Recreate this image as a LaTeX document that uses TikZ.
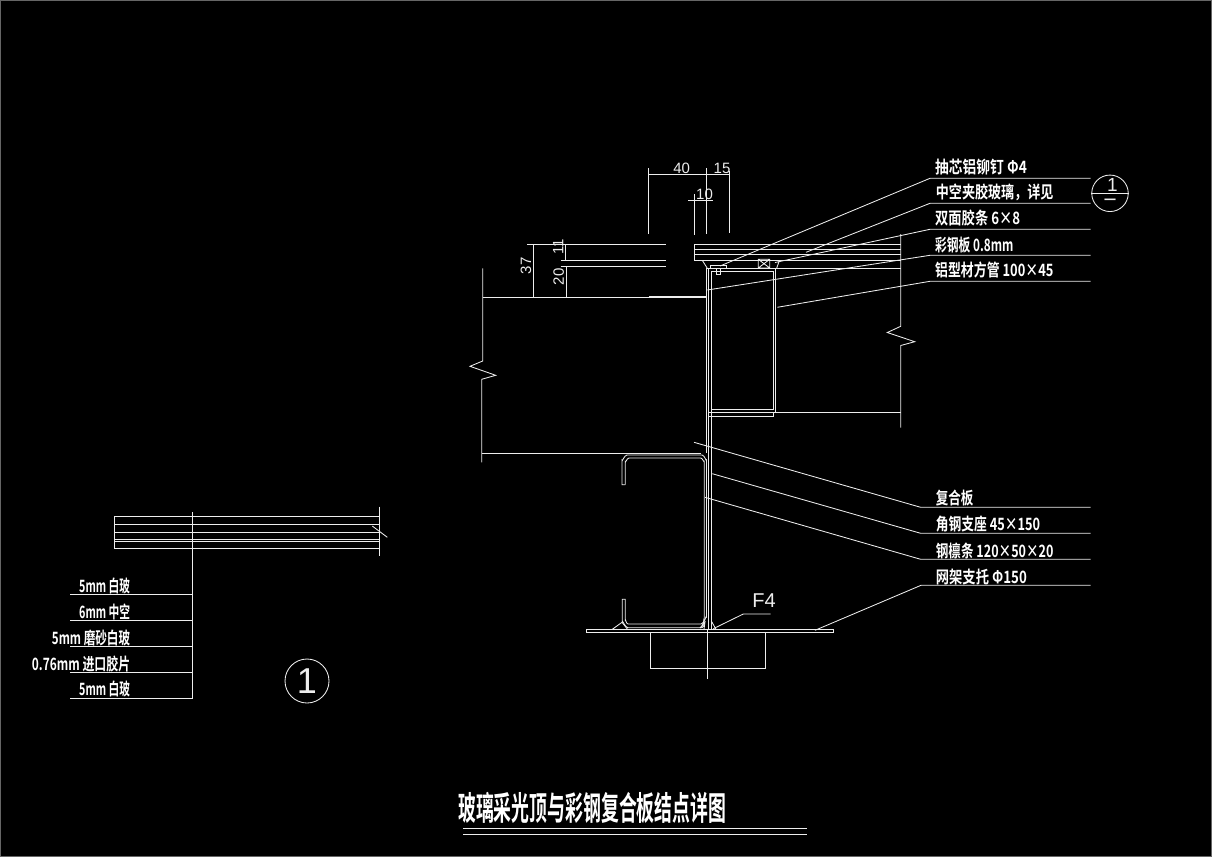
\documentclass[tikz,border=0pt]{standalone}
\usepackage{fontspec}
\usepackage{graphicx}
\setmainfont{Liberation Sans}
\newfontfamily\cjkb[BoldFont={Noto Sans CJK SC Bold}]{Noto Sans CJK SC Bold}
\newcommand{\fitw}[2]{\resizebox{#1pt}{\height}{#2}}
\tikzset{
  cad/.style={draw=cadwhite,line width=0.85pt,line cap=butt,line join=miter},
  lab/.style={anchor=west,inner sep=0pt,text=white,font=\cjkb\fontsize{17}{17}\selectfont},
  dimtxt/.style={inner sep=0pt,text=cadwhite,font=\fontsize{15}{15}\selectfont}
}
\definecolor{cadwhite}{gray}{0.93}
\begin{document}
\begin{tikzpicture}[x=1pt,y=-1pt]
\useasboundingbox (0,0) rectangle (1212,857);
\fill[black] (0,0) rectangle (1212,857);
\draw[draw=black!60!white,line width=0.8pt] (0.4,0.4) rectangle (1211.6,856.6);

% ---------- dimensions top
\draw[cad] (648.3,174.3) -- (729.3,174.3);
\draw[cad] (648.3,168) -- (648.3,233.7);
\draw[cad] (706.3,168) -- (706.3,234);
\draw[cad] (729.3,171) -- (729.3,233);
\draw[cad] (688.3,200.3) -- (712.7,200.3);
\draw[cad] (694.3,194) -- (694.3,235);
\node[dimtxt] (d40) at (681.7,168) {40};
\node[dimtxt] (d15) at (722,168) {15};
\node[dimtxt] (d10) at (704.5,194.5) {10};

% ---------- dimensions left
\draw[cad] (527,244.3) -- (665.7,244.3);
\draw[cad] (560.7,260.3) -- (665.7,260.3);
\draw[cad] (560.7,266.3) -- (665.7,266.3);
\draw[cad] (533.3,244.3) -- (533.3,297.3);
\draw[cad] (565.5,244.3) -- (565.5,260.3);
\draw[cad] (566.3,266.3) -- (566.3,297.3);
\node[dimtxt,rotate=90] (d37) at (526,265.7) {37};
\node[dimtxt,rotate=90] (d11) at (558.3,246.7) {11};
\node[dimtxt,rotate=90] (d20) at (558.7,276.7) {20};

% ---------- glass right part
\draw[cad] (900.7,244.3) -- (694.3,244.3) -- (694.3,260.3) -- (900.7,260.3);
\draw[cad] (694.3,249.3) -- (900.7,249.3);
\draw[cad] (694.3,254.7) -- (900.7,254.7);
\draw[cad] (708.7,268.3) -- (900.7,268.3);
\draw[cad] (702.3,260.3) -- (707.3,268.3);
\draw[cad] (779.3,260.8) -- (776.7,268);
\draw[cad] (758.3,259.3) rectangle (769.7,268) (758.3,259.3) -- (769.7,268) (758.3,268) -- (769.7,259.3);
\draw[cad] (710,268.3) -- (710,265.7) -- (726.7,265.7) -- (726.7,268.3);
\draw[cad] (716.3,268.3) rectangle (720.7,274.7);

% ---------- right break line
\draw[cad] (900.7,234) -- (900.7,326.3) -- (887.3,332.5) -- (914.7,341.7) -- (900.7,345.5) -- (900.7,427.7);
\draw[cad] (775.7,412.3) -- (900.7,412.3);

% ---------- tube
\draw[cad] (706.3,268.3) -- (775.7,268.3) -- (775.7,412.3) -- (708.7,412.3);
\draw[cad] (711.3,271) -- (773.7,271) -- (773.7,409.3) -- (711.3,409.3) -- cycle;
\draw[cad] (708.7,268.3) -- (708.7,628.5);
\draw[cad] (711.3,409.3) -- (711.3,628.5);
\draw[cad] (708.7,416) -- (773.7,416) -- (773.7,412.3);

% ---------- composite panel left
\draw[cad] (482.7,268.3) -- (482.7,361) -- (470,366.3) -- (495.7,375.3) -- (481.7,379.3) -- (481.7,462.3);
\draw[cad] (482.7,297.3) -- (706.3,297.3);
\draw[line width=1.3pt,cadwhite] (649,297) -- (706.3,297);
\draw[cad] (481.7,453.3) -- (701,453.3);
\draw[cad] (706.3,268.3) -- (706.3,453);

% ---------- C purlin
\draw[cad] (625.3,484.7) -- (622,484.7) -- (622,460) to[out=-90,in=180] (627,455) -- (702,455) to[out=0,in=-90] (706.5,460)
  -- (706.5,617) to[out=90,in=0] (701,624) -- (628,624) to[out=180,in=90] (625.3,620) -- (625.3,599.3) -- (622.3,599.3) -- (622.3,622)
  to[out=90,in=180] (628,627.7) -- (702,627.7) to[out=0,in=100] (704.3,620);
\draw[cad] (625.3,484.7) -- (625.3,461.5) to[out=-90,in=180] (629,458) -- (700.7,458) to[out=0,in=-90] (704.3,461.5) -- (704.3,618) to[out=90,in=0] (700,627.7);
% welds
\draw[cad] (612.3,629.3) -- (622,622.3) -- (627.5,629.3);
\draw[cad] (700,628) -- (705,622) -- (704,629);
\draw[cad] (711.3,621) -- (716,629.3);

% ---------- base plate
\draw[cad] (586.3,629.3) rectangle (833.7,632.3);
\draw[cad] (650.3,632.3) -- (650.3,668.3) -- (765.3,668.3) -- (765.3,632.3);
\draw[cad] (707.3,629.3) -- (707.3,678.7);
\draw[cad] (770.7,614) -- (743.3,614) -- (713.3,628.7);
\node[dimtxt,font=\fontsize{20}{20}\selectfont] (f4) at (764,601) {F4};

% ---------- leaders right
\draw[cad] (1090.7,178.3) -- (930,178.3) -- (720,266);
\draw[cad] (1090.7,203.3) -- (930,203.3) -- (806,252.3);
\draw[cad] (1090.7,229.3) -- (930,229.3) -- (775,262.5);
\draw[cad] (1090.7,255.3) -- (930,255.3) -- (707.3,290);
\draw[cad] (1090.7,281.3) -- (930,281.3) -- (777.3,307.3);
\draw[cad] (1090.7,507.3) -- (920.7,507.3) -- (694,442.3);
\draw[cad] (1090.7,533.3) -- (920.7,533.3) -- (712.3,473.7);
\draw[cad] (1090.7,559.3) -- (920.7,559.3) -- (705,497.3);
\draw[cad] (1090.7,585.3) -- (921,585.3) -- (815,630.3);

\node[lab] (t1) at (935,166.7) {\fitw{91.7}{抽芯铝铆钉 Φ4}};
\node[lab] (t2) at (935.7,192.8) {\fitw{117.6}{中空夹胶玻璃，详见}};
\node[lab] (t3) at (935,218.3) {\fitw{85}{双面胶条 6×8}};
\node[lab] (t4) at (935,245) {\fitw{78.3}{彩钢板 0.8mm}};
\node[lab] (t5) at (935,270) {\fitw{118.3}{铝型材方管 100×45}};
\node[lab] (t6) at (935.7,498.3) {\fitw{37.6}{复合板}};
\node[lab] (t7) at (935.7,524.3) {\fitw{104.3}{角钢支座 45×150}};
\node[lab] (t8) at (935.7,550.7) {\fitw{117.6}{钢檩条 120×50×20}};
\node[lab] (t9) at (935.7,576.7) {\fitw{91}{网架支托 Φ150}};

% ---------- section mark
\node[circle,draw=cadwhite,line width=0.85pt,minimum size=36.5pt,inner sep=0pt] (cr) at (1110,193.3) {};
\draw[cad] (cr.west) -- (cr.east);
\node[dimtxt,font=\fontsize{19}{19}\selectfont] (cr1) at (1112.5,185) {1};
\node[dimtxt,font=\cjkb\fontsize{12}{12}\selectfont] (cr2) at (1110,201.5) {一};

% ---------- detail left
\draw[cad] (379.3,516) -- (114.3,516) -- (114.3,548.7) -- (379.3,548.7);
\draw[cad] (114.3,524.3) -- (379.3,524.3);
\draw[cad] (114.3,532.3) -- (379.3,532.3);
\draw[cad] (114.3,539.7) -- (379.3,539.7);
\draw[cad] (114.3,541.5) -- (379.3,541.5);
\draw[cad] (379.3,506.7) -- (379.3,556);
\draw[cad] (372.3,526) -- (387.3,537.3);
\draw[cad] (192.3,512.3) -- (192.3,698.5) -- (70,698.5);
\draw[cad] (70,594.3) -- (192.3,594.3);
\draw[cad] (70,620.3) -- (192.3,620.3);
\draw[cad] (70,646.3) -- (192.3,646.3);
\draw[cad] (70,672.3) -- (192.3,672.3);
\node[lab] (l1) at (79,586) {\fitw{51}{5mm 白玻}};
\node[lab] (l2) at (79,611.7) {\fitw{51}{6mm 中空}};
\node[lab] (l3) at (51.7,638.3) {\fitw{78.3}{5mm 磨砂白玻}};
\node[lab] (l4) at (31.7,664) {\fitw{98.3}{0.76mm 进口胶片}};
\node[lab] (l5) at (79,689.3) {\fitw{51}{5mm 白玻}};

\node[circle,draw=cadwhite,line width=0.85pt,minimum size=44pt,inner sep=0pt] (c1) at (307,681) {};
\node[dimtxt,font=\fontsize{36}{36}\selectfont] (c1t) at (c1) {1};

% ---------- title
\node[lab,font=\cjkb\fontsize{33}{33}\selectfont] (title) at (458,808) {\fitw{268}{玻璃采光顶与彩钢复合板结点详图}};
\draw[cad] (463,828.3) -- (807,828.3);
\draw[cad] (463,834.3) -- (807,834.3);
\end{tikzpicture}
\end{document}
